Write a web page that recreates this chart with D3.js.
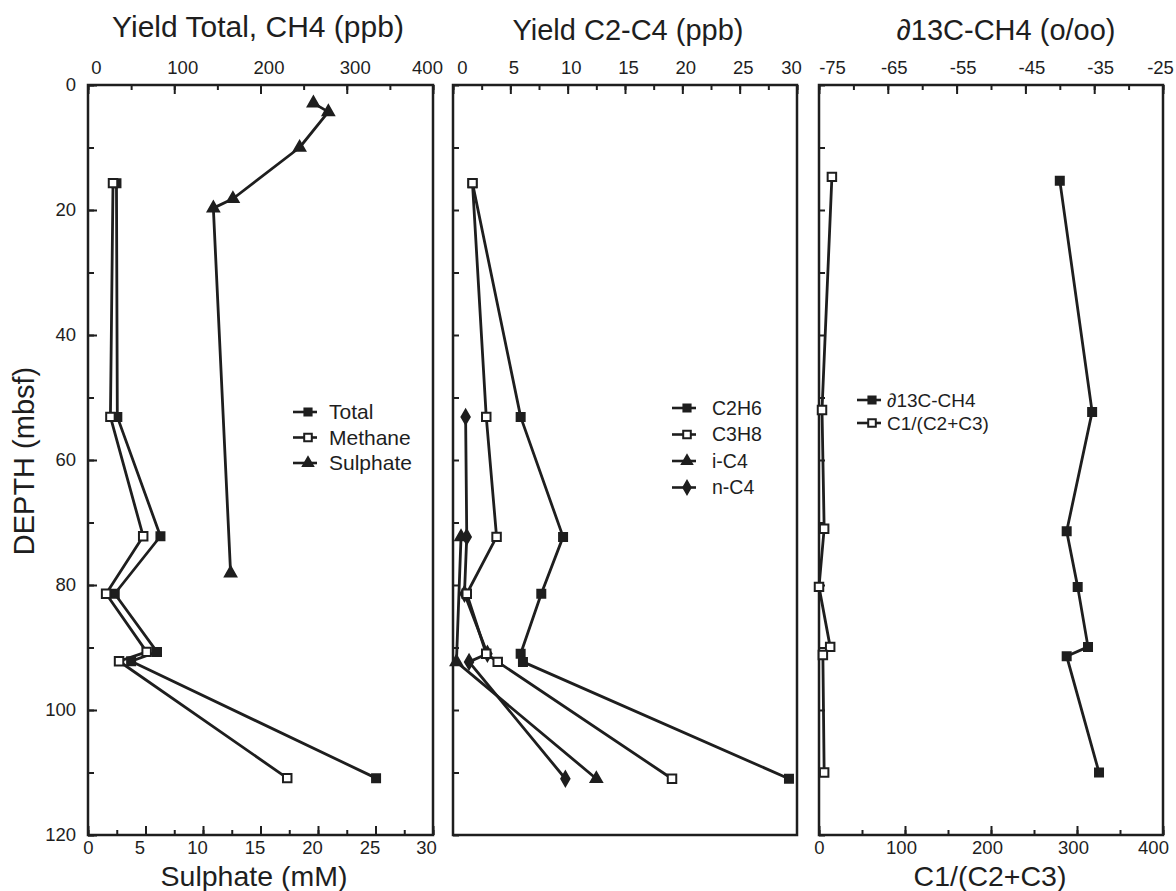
<!DOCTYPE html>
<html>
<head>
<meta charset="utf-8">
<script src="https://cdn.jsdelivr.net/npm/d3@7"></script>
<style>
  html, body { margin: 0; padding: 0; background: #fff; }
  svg { display: block; font-family: "Liberation Sans", Arial, Helvetica, sans-serif; }
</style>
</head>
<body>
<svg id="chart" width="1176" height="891"></svg>
<script>
// ---------- DATA ----------
// Panel 1: Yield Total / Methane (ppb, top axis) and Sulphate (mM, bottom axis)
const depthGas = [15.7, 53.1, 72.2, 81.4, 90.7, 92.2, 110.9];
const totalPpb = [33, 34, 84, 31, 80, 50, 334];
const methanePpb = [29, 26, 64, 21, 68, 36, 231];
const depthSulphate = [2.9, 4.3, 10.0, 18.2, 19.7, 78.1];
const sulphateMM = [19.6, 20.9, 18.4, 12.6, 10.9, 12.4];

// Panel 2: Yield C2-C4 (ppb)
const depthC2H6 = [15.7, 53.1, 72.3, 81.4, 91.0, 92.3, 111.0];
const c2h6 = [1.7, 5.9, 9.6, 7.7, 5.9, 6.1, 29.3];
const depthC3H8 = [15.7, 53.1, 72.3, 81.4, 91.0, 92.3, 111.0];
const c3h8 = [1.7, 2.9, 3.8, 1.2, 2.9, 3.9, 19.1];
const depthIC4 = [72.3, 92.3, 111.0];
const iC4 = [0.7, 0.3, 12.5];
const depthNC4 = [53.1, 72.3, 81.4, 91.0, 92.3, 111.0];
const nC4 = [1.1, 1.2, 1.0, 3.0, 1.4, 9.8];

// Panel 3: d13C-CH4 (top axis) and C1/(C2+C3) (bottom axis)
const depthDelta = [15.3, 52.3, 71.4, 80.3, 89.9, 91.4, 110.0];
const delta13C = [-40.0, -35.3, -39.0, -37.4, -35.9, -39.0, -34.3];
const depthRatio = [14.7, 52.0, 71.0, 80.3, 89.9, 91.2, 110.0];
const ratioC1 = [15, 3.5, 6, 0, 13, 4.5, 6];

// Axis tick labels
const depthTicks = [0, 20, 40, 60, 80, 100, 120];
const ppbTicks = [0, 100, 200, 300, 400];
const sulphateTicks = [0, 5, 10, 15, 20, 25, 30];
const c2c4Ticks = [0, 5, 10, 15, 20, 25, 30];
const deltaTicks = [-75, -65, -55, -45, -35, -25];
const ratioTicks = [0, 100, 200, 300, 400];

// ---------- LAYOUT ----------
const INK = "#1e1e1e";
const svg = d3.select("#chart");
const plotTop = 85, plotBottom = 835;
const y = d3.scaleLinear().domain([0, 120]).range([plotTop, plotBottom]);

const panels = [
  {x0: 88, x1: 433},
  {x0: 453, x1: 797},
  {x0: 819, x1: 1163}
];

const x1top = d3.scaleLinear().domain([0, 400]).range([panels[0].x0, panels[0].x1]);
const x1bot = d3.scaleLinear().domain([0, 30]).range([panels[0].x0, panels[0].x1]);
const x2top = d3.scaleLinear().domain([0, 30]).range([panels[1].x0, panels[1].x1]);
const x3top = d3.scaleLinear().domain([-75, -25]).range([panels[2].x0, panels[2].x1]);
const x3bot = d3.scaleLinear().domain([0, 400]).range([panels[2].x0, panels[2].x1]);

const plainFmt = d => String(d);   // hyphen-minus, as in the original

function styleAxis(g, fontSize) {
  g.select(".domain").remove();
  g.selectAll(".tick line").attr("stroke", INK).attr("stroke-width", 2);
  g.selectAll(".tick text").attr("fill", INK).attr("font-size", fontSize)
    .attr("font-family", "Liberation Sans, Arial, sans-serif");
}

// label nudges: [first, interior, last]
function nudge(g, n) {
  g.selectAll(".tick text").attr("dx", (d, i, arr) =>
    i === 0 ? n[0] : (i === arr.length - 1 ? n[2] : n[1]));
}

function topAxis(scale, minorStep, majorTicks, n) {
  const d = scale.domain();
  const minor = d3.range(d[0], d[1] + 1e-9, minorStep);
  svg.append("g").attr("transform", `translate(0,${plotTop})`)
    .call(d3.axisTop(scale).tickValues(minor).tickSize(-5).tickFormat(""))
    .call(g => styleAxis(g, 19));
  svg.append("g").attr("transform", `translate(0,${plotTop})`)
    .call(d3.axisTop(scale).tickValues(majorTicks).tickSize(-9).tickPadding(11).tickFormat(plainFmt))
    .call(g => styleAxis(g, 18.5))
    .call(g => nudge(g, n));
}
function bottomAxis(scale, minorStep, majorTicks, n) {
  const d = scale.domain();
  const minor = d3.range(d[0], d[1] + 1e-9, minorStep);
  svg.append("g").attr("transform", `translate(0,${plotBottom})`)
    .call(d3.axisBottom(scale).tickValues(minor).tickSize(-5).tickFormat(""))
    .call(g => styleAxis(g, 19));
  svg.append("g").attr("transform", `translate(0,${plotBottom})`)
    .call(d3.axisBottom(scale).tickValues(majorTicks).tickSize(-9).tickPadding(6).tickFormat(plainFmt))
    .call(g => styleAxis(g, 18.5))
    .call(g => nudge(g, n));
}
function leftAxis(x0, labels) {
  const minor = d3.range(0, 121, 10);
  svg.append("g").attr("transform", `translate(${x0},0)`)
    .call(d3.axisLeft(y).tickValues(minor).tickSize(-6).tickFormat(""))
    .call(g => styleAxis(g, 19));
  if (labels) {
    svg.append("g").attr("transform", `translate(${x0},0)`)
      .call(d3.axisLeft(y).tickValues(depthTicks).tickSize(-9).tickPadding(12).tickFormat(plainFmt))
      .call(g => styleAxis(g, 18.5));
  }
}

// frames
panels.forEach(p => {
  svg.append("rect").attr("x", p.x0).attr("y", plotTop)
    .attr("width", p.x1 - p.x0).attr("height", plotBottom - plotTop)
    .attr("fill", "none").attr("stroke", INK).attr("stroke-width", 2.5);
});

// axes
topAxis(x1top, 50, ppbTicks, [8, 8, -6]);
bottomAxis(x1bot, 2.5, sulphateTicks, [0, -6, -7]);
leftAxis(panels[0].x0, true);

topAxis(x2top, 2.5, c2c4Ticks, [9, 3, -6]);
leftAxis(panels[1].x0, false);

topAxis(x3top, 5, deltaTicks, [13, 6, -3]);
bottomAxis(x3bot, 50, ratioTicks, [0, -4, -10]);
leftAxis(panels[2].x0, false);

// titles
function addText(x, yy, str, size, anchor, rot) {
  const t = svg.append("text").attr("x", x).attr("y", yy).text(str)
    .attr("font-size", size).attr("fill", INK).attr("text-anchor", anchor || "middle");
  if (rot) t.attr("transform", `rotate(${rot},${x},${yy})`);
  return t;
}
addText(258, 37, "Yield Total, CH4 (ppb)", 30);
addText(628, 40, "Yield C2-C4 (ppb)", 29);
addText(1006, 40, "\u220213C-CH4 (o/oo)", 29);
addText(254, 886, "Sulphate (mM)", 28.5);
addText(990, 886, "C1/(C2+C3)", 28.5);
addText(34, 461, "DEPTH (mbsf)", 29, "middle", -90);

// ---------- MARKS ----------
const shapes = {
  filledSquare: {type: d3.symbolSquare, size: 64, fill: INK},
  openSquare: {type: d3.symbolSquare, size: 72, fill: "#fff"},
  triangle: {type: d3.symbolTriangle, size: 55, fill: INK},
  diamond: {type: d3.symbolDiamond, size: 60, fill: INK}
};

function series(xs, depths, values, shape) {
  const pts = depths.map((d, i) => [xs(values[i]), y(d)]);
  svg.append("path").attr("d", d3.line()(pts))
    .attr("fill", "none").attr("stroke", INK).attr("stroke-width", 2.8)
    .attr("stroke-linejoin", "round");
  const s = shapes[shape];
  svg.append("g").selectAll("path").data(pts).join("path")
    .attr("transform", p => `translate(${p[0]},${p[1]})`)
    .attr("d", d3.symbol().type(s.type).size(s.size))
    .attr("fill", s.fill).attr("stroke", INK).attr("stroke-width", 2);
}

// panel 1
series(x1top, depthGas, totalPpb, "filledSquare");
series(x1top, depthGas, methanePpb, "openSquare");
series(x1bot, depthSulphate, sulphateMM, "triangle");

// panel 2
series(x2top, depthNC4, nC4, "diamond");
series(x2top, depthIC4, iC4, "triangle");
series(x2top, depthC2H6, c2h6, "filledSquare");
series(x2top, depthC3H8, c3h8, "openSquare");

// panel 3
series(x3bot, depthRatio, ratioC1, "openSquare");
series(x3top, depthDelta, delta13C, "filledSquare");

// ---------- LEGENDS ----------
function legend(lx, ly, items, size, gap, textOff) {
  items.forEach((it, i) => {
    const yy = ly + i * gap;
    svg.append("line").attr("x1", lx).attr("x2", lx + 24).attr("y1", yy).attr("y2", yy)
      .attr("stroke", INK).attr("stroke-width", 2.6);
    const s = shapes[it.shape];
    svg.append("path").attr("transform", `translate(${lx + 15},${yy})`)
      .attr("d", d3.symbol().type(s.type).size(s.size * 0.8))
      .attr("fill", s.fill).attr("stroke", INK).attr("stroke-width", 2);
    svg.append("text").attr("x", lx + textOff).attr("y", yy).attr("dy", "0.35em")
      .attr("font-size", size).attr("fill", INK).text(it.label);
  });
}
legend(293, 412, [
  {label: "Total", shape: "filledSquare"},
  {label: "Methane", shape: "openSquare"},
  {label: "Sulphate", shape: "triangle"}
], 21, 25.5, 36);
legend(672, 408, [
  {label: "C2H6", shape: "filledSquare"},
  {label: "C3H8", shape: "openSquare"},
  {label: "i-C4", shape: "triangle"},
  {label: "n-C4", shape: "diamond"}
], 19.5, 26.5, 40);
legend(857, 400, [
  {label: "\u220213C-CH4", shape: "filledSquare"},
  {label: "C1/(C2+C3)", shape: "openSquare"}
], 19, 23, 30);
</script>
</body>
</html>
